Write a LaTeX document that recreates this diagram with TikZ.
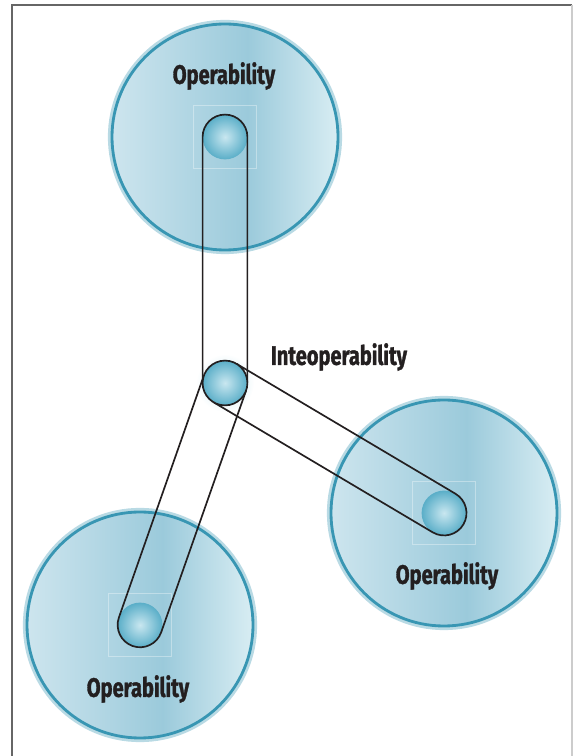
\documentclass[tikz,border=0pt]{standalone}
\usepackage{fontspec}
\usepackage{tikz}
\usetikzlibrary{shapes}
\usetikzlibrary{backgrounds}
\newfontfamily\lblfont{Fira Sans}[FakeStretch=0.75, BoldFeatures={FakeBold=1.2}]
\definecolor{discleft}{HTML}{CDE5EE}
\definecolor{discmid}{HTML}{9BCADB}
\definecolor{discright}{HTML}{D8EDF3}
\definecolor{discrim}{HTML}{3896B3}
\definecolor{dotin}{HTML}{C9E7F0}
\definecolor{dotout}{HTML}{5AAEC8}
\definecolor{inkdark}{HTML}{231F20}
\pgfdeclarehorizontalshading{discshade}{100bp}{color(0bp)=(discleft); color(25bp)=(discleft); color(55bp)=(discmid); color(75bp)=(discright); color(100bp)=(discright)}
\tikzstyle{opdisc}=[circle, minimum size=5.65cm, inner sep=0pt, outer sep=0pt, draw=discrim, line width=2pt, shading=discshade]
\tikzstyle{discglow}=[circle, minimum size=5.75cm, inner sep=0pt, draw=discrim!35, line width=3pt]
\tikzstyle{faintbox}=[rectangle, minimum size=1.57cm, inner sep=0pt, draw=white, opacity=.35, line width=.5pt]
\tikzstyle{dot}=[circle, minimum size=1.12cm, inner sep=0pt, outer sep=0pt, inner color=dotin, outer color=dotout]
\tikzstyle{hubglow}=[circle, minimum size=1.45cm, inner sep=0pt, inner color=dotin, outer color=white]
\tikzstyle{link}=[line width=1.2pt, inkdark]
\tikzstyle{lbl}=[font=\lblfont\bfseries\fontsize{19}{22}\selectfont, text=inkdark]
\newcommand{\linkCapsule}[3]{
	\draw[link] (hub.#2) -- (#1.#2) arc[start angle=#2, end angle=#3, radius=.56cm] -- (hub.#3);
}

\begin{document}
\begin{tikzpicture}
	\useasboundingbox (0,0) rectangle (14.35,18.9);
	% frame
	\draw[line width=1.5pt, black!60] (.29,0) -- (.29,18.775) -- (14.31,18.775);
	\draw[line width=1.5pt, black!20] (14.31,18.775) -- (14.31,0);
	% discs
	\node[discglow] at (5.625,15.475) {};
	\node[discglow] at (11.1,6.075) {};
	\node[discglow] at (3.5,3.275) {};
	\node[opdisc] (discT) at (5.625,15.475) {};
	\node[opdisc] (discR) at (11.1,6.075) {};
	\node[opdisc] (discL) at (3.5,3.275) {};
	\node[faintbox] (boxT) at (discT) {};
	\node[faintbox] (boxR) at (discR) {};
	\node[faintbox] (boxL) at (discL) {};
	\node[dot] (dotT) at (discT) {};
	\node[dot] (dotR) at (discR) {};
	\node[dot] (dotL) at (discL) {};
	% hub
	\node[hubglow] (hubhalo) at (5.625,9.325) {};
	\node[dot] (hub) at (hubhalo) {};
	\linkCapsule{dotT}{180}{0}
	\linkCapsule{dotR}{59.3}{-120.7}
	\linkCapsule{dotL}{-19.35}{-199.35}
	\node[dot, draw=inkdark, line width=1.2pt] at (hub) {};
	% labels
	\node[lbl] (lblT) at (5.6,17.0) {Operability};
	\node[lbl] (lblHub) at (8.475,9.975) {Inteoperability};
	\node[lbl] (lblR) at (11.175,4.5) {Operability};
	\node[lbl] (lblL) at (3.45,1.675) {Operability};
\end{tikzpicture}
\end{document}
